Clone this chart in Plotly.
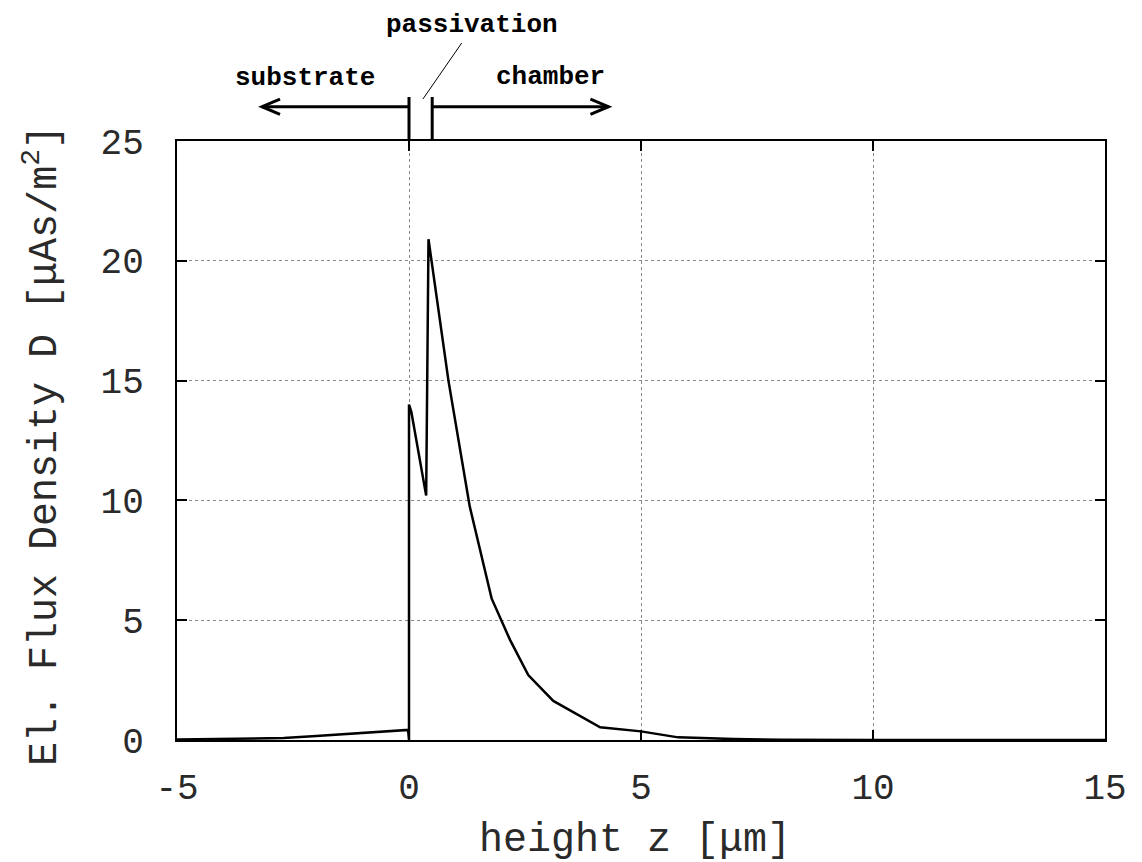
import plotly.graph_objects as go

# Electron flux density profile across substrate / passivation / chamber
z_um = [-5.0, -4.0, -3.0, -2.7, -2.0, -1.5, -1.0, -0.5, -0.02,
        0.0, 0.0, 0.05, 0.37, 0.42, 0.85, 1.31, 1.53, 1.78, 2.18,
        2.57, 3.11, 4.12, 5.0, 5.8, 7.0, 8.0, 10.0, 15.0]
D_flux = [0.02, 0.04, 0.06, 0.08, 0.17, 0.23, 0.29, 0.35, 0.42,
          0.0, 14.0, 13.7, 10.2, 20.9, 15.0, 9.74, 7.93, 5.91, 4.17,
          2.71, 1.63, 0.53, 0.36, 0.11, 0.04, 0.01, 0.0, 0.0]

# layer boundaries (µm)
passivation_start = 0.0
passivation_end = 0.5
substrate_arrow_end = -3.17
chamber_arrow_end = 4.30

x_ticks = [-5, 0, 5, 10, 15]
y_ticks = [0, 5, 10, 15, 20, 25]

MONO = "Courier New, Liberation Mono, monospace"
INK = "#2a2a2a"

fig = go.Figure()
fig.add_trace(go.Scatter(
    x=z_um, y=D_flux, mode="lines",
    line=dict(color="black", width=2.5),
    showlegend=False, hoverinfo="skip",
))

axis_common = dict(
    showline=True, linecolor="black", linewidth=2, mirror="allticks",
    ticks="inside", ticklen=10, tickwidth=1.5, tickcolor="black",
    showgrid=True, gridcolor="#8a8a8a", griddash="dot", gridwidth=1,
    zeroline=False,
    tickfont=dict(family=MONO, size=36, color=INK),
)

fig.update_xaxes(range=[-5, 15], tickvals=x_ticks, ticktext=[str(v) for v in x_ticks],
                 ticklabelstandoff=14, **axis_common)
fig.update_yaxes(range=[0, 25], tickvals=y_ticks, ticktext=[str(v) for v in y_ticks],
                 ticklabelstandoff=24, **axis_common)

shapes = []
# layer bracket marks above the frame
y_top = 1.0735
y_arrow = 1.0573
for xb in (passivation_start, passivation_end):
    shapes.append(dict(type="line", xref="x", yref="paper", x0=xb, x1=xb,
                       y0=1.0, y1=y_top, line=dict(color="black", width=3)))
# substrate arrow (pointing left)
shapes.append(dict(type="line", xref="x", yref="paper", x0=passivation_start, x1=substrate_arrow_end,
                   y0=y_arrow, y1=y_arrow, line=dict(color="black", width=3)))
shapes.append(dict(type="path", xref="x", yref="paper",
                   path=f"M {substrate_arrow_end + 0.39} {y_arrow + 0.0128} L {substrate_arrow_end} {y_arrow} "
                        f"L {substrate_arrow_end + 0.39} {y_arrow - 0.0128}",
                   line=dict(color="black", width=3)))
# chamber arrow (pointing right)
shapes.append(dict(type="line", xref="x", yref="paper", x0=passivation_end, x1=chamber_arrow_end,
                   y0=y_arrow, y1=y_arrow, line=dict(color="black", width=3)))
shapes.append(dict(type="path", xref="x", yref="paper",
                   path=f"M {chamber_arrow_end - 0.39} {y_arrow + 0.0128} L {chamber_arrow_end} {y_arrow} "
                        f"L {chamber_arrow_end - 0.39} {y_arrow - 0.0128}",
                   line=dict(color="black", width=3)))
# leader line for the passivation label
shapes.append(dict(type="line", xref="x", yref="paper", x0=0.30, x1=1.136,
                   y0=1.070, y1=1.1636, line=dict(color="black", width=1)))

label_font = dict(family=MONO, size=26, color="black", weight="bold")
annotations = [
    dict(text="passivation", xref="x", yref="paper", x=1.35, y=1.1937,
         showarrow=False, font=label_font, xanchor="center", yanchor="middle"),
    dict(text="substrate", xref="x", yref="paper", x=-2.24, y=1.105,
         showarrow=False, font=label_font, xanchor="center", yanchor="middle"),
    dict(text="chamber", xref="x", yref="paper", x=3.04, y=1.107,
         showarrow=False, font=label_font, xanchor="center", yanchor="middle"),
    # axis titles
    dict(text="height z [μm]", xref="paper", yref="paper", x=0.4935, y=-0.168,
         showarrow=False, font=dict(family=MONO, size=40, color=INK),
         xanchor="center", yanchor="middle"),
    dict(text="El. Flux Density D [μAs/m<sup>2</sup>]", xref="paper", yref="paper",
         x=-0.1455, y=0.4925, textangle=-90,
         showarrow=False, font=dict(family=MONO, size=40, color=INK),
         xanchor="center", yanchor="middle"),
]

fig.update_layout(
    width=1142, height=862,
    margin=dict(l=177, r=37, t=141, b=122),
    paper_bgcolor="white", plot_bgcolor="white",
    shapes=shapes, annotations=annotations,
    showlegend=False,
)

fig.write_html("out.html")
